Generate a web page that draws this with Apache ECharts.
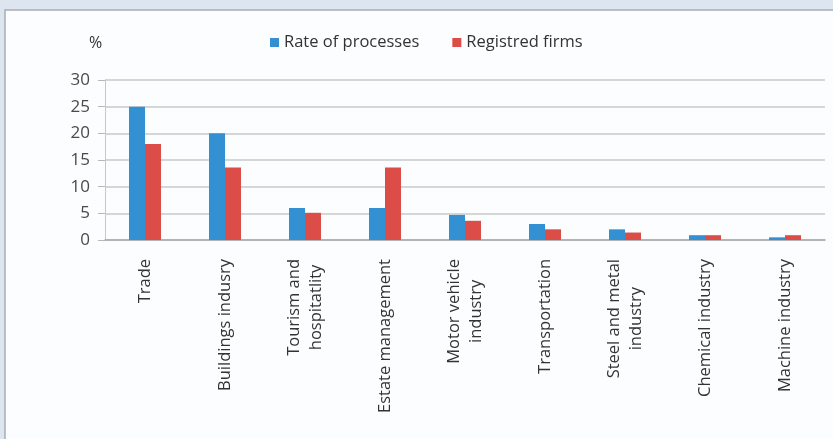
<!DOCTYPE html>
<html>
<head>
<meta charset="utf-8">
<script src="https://cdn.jsdelivr.net/npm/echarts@6/dist/echarts.min.js"></script>
<style>
  html, body { margin: 0; padding: 0; background: #dde6f0; }
  #chart { width: 833px; height: 439px; }
</style>
</head>
<body>
<div id="chart"></div>
<script>
// Sectors, share of court processes vs. share of registered firms (%)
const categories = [
  'Trade',
  'Buildings indusry',
  'Tourism and\nhospitatlity',
  'Estate management',
  'Motor vehicle\nindustry',
  'Transportation',
  'Steel and metal\nindustry',
  'Chemical industry',
  'Machine industry'
];
const rateOfProcesses = [25, 20, 6, 6, 4.7, 3, 2, 0.9, 0.5];
const registredFirms = [18, 13.6, 5.1, 13.6, 3.6, 2, 1.4, 0.9, 0.9];
const yTicks = { min: 0, max: 30, step: 5 };

const FONT = '"Open Sans", "Noto Sans", sans-serif';
const LABEL_SIZE = 16.5;

// Multi-line category labels: lines centred on each other, block ending at the axis.
const measureCtx = document.createElement('canvas').getContext('2d');
measureCtx.font = LABEL_SIZE + 'px ' + FONT;
const categoryItems = categories.map(function (name) {
  const lines = name.split('\n');
  if (lines.length === 1) return name;
  const w = Math.max.apply(null, lines.map(function (l) { return measureCtx.measureText(l).width; }));
  return {
    value: name,
    textStyle: { align: 'center', padding: [0, w, 0, 0] }
  };
});

const chart = echarts.init(document.getElementById('chart'), null, { renderer: 'canvas' });

chart.setOption({
  backgroundColor: '#dde6f0',
  animation: false,
  graphic: [
    {
      type: 'rect',
      shape: { x: 5, y: 10, width: 840, height: 440 },
      style: { fill: '#fbfdff', stroke: '#a9adb3', lineWidth: 1.5 },
      z: -10
    },
    {
      type: 'text',
      left: 89, top: 35,
      style: { text: '%', font: '16px ' + FONT, fill: '#333' }
    }
  ],
  legend: {
    top: 29,
    left: 265,
    itemWidth: 9,
    itemHeight: 9,
    itemGap: 33,
    icon: 'rect',
    textStyle: { fontFamily: FONT, fontSize: 16.5, color: '#333' },
    data: ['Rate of processes', 'Registred firms']
  },
  grid: { left: 105, right: 8, top: 80, bottom: 199, containLabel: false },
  xAxis: {
    type: 'category',
    data: categoryItems,
    axisLine: { lineStyle: { color: '#a8a8a8', width: 1.5 } },
    axisTick: { show: false },
    axisLabel: {
      rotate: 90,
      margin: 19,
      interval: 0,
      fontFamily: FONT,
      fontSize: LABEL_SIZE,
      color: '#333',
      lineHeight: 22,
      align: 'right',
      verticalAlign: 'middle'
    }
  },
  yAxis: {
    type: 'value',
    min: yTicks.min,
    max: yTicks.max,
    interval: yTicks.step,
    axisLine: { show: true, lineStyle: { color: '#c8c8c8' } },
    axisTick: { show: true, length: 7, lineStyle: { color: '#b8b8b8' } },
    splitLine: { lineStyle: { color: '#c8c8c8', width: 1.5 } },
    axisLabel: { margin: 15, fontFamily: FONT, fontSize: 17, color: '#4a4a4a' }
  },
  series: [
    {
      name: 'Rate of processes',
      type: 'bar',
      data: rateOfProcesses,
      barWidth: 16,
      barGap: '0%',
      itemStyle: { color: '#3390d2' }
    },
    {
      name: 'Registred firms',
      type: 'bar',
      data: registredFirms,
      barWidth: 16,
      barGap: '0%',
      itemStyle: { color: '#dc4d48' }
    }
  ]
});
</script>
</body>
</html>
